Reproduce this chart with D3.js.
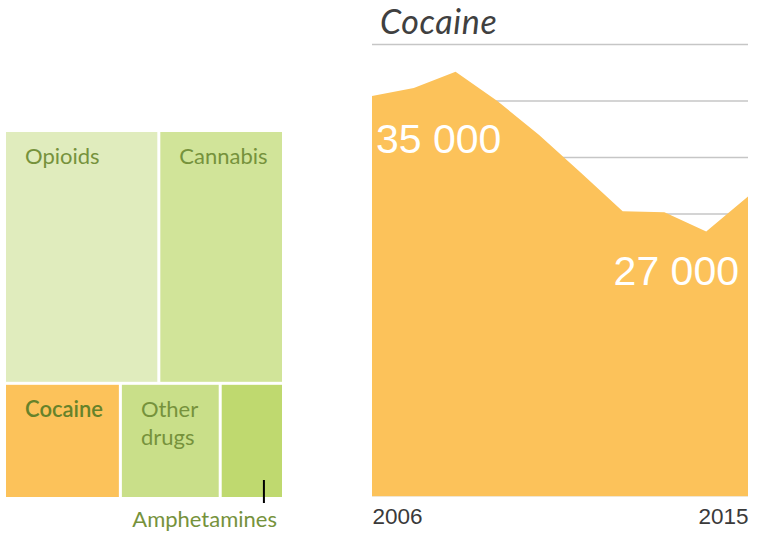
<!DOCTYPE html>
<html>
<head>
<meta charset="utf-8">
<script src="https://cdn.jsdelivr.net/npm/d3@7"></script>
<style>
  html, body { margin: 0; padding: 0; background: #ffffff; }
  svg { display: block; }
</style>
</head>
<body>
<svg id="chart" width="757" height="533"></svg>
<script>
// ---- Data ----
const treeRows = ["top", "bottom"];
const treeCategories = ["Opioids", "Cannabis", "Cocaine", "Other drugs", "Amphetamines"];
const treeRowOf = ["top", "top", "bottom", "bottom", "bottom"];
const treeValues = [38, 30.7, 13, 11.2, 7.1];
const treeColors = ["#e0ecbd", "#d1e499", "#fcc25a", "#c9df89", "#bfd96f"];

const years = [2006, 2007, 2008, 2009, 2010, 2011, 2012, 2013, 2014, 2015];
const cocaineValues = [35400, 36100, 37550, 34950, 31950, 28600, 25200, 25100, 23400, 26500];
const gridTicks = [5000, 10000, 15000, 20000, 25000, 30000, 35000, 40000];
const yearTickLabels = [2006, 2015];
const valueLabels = [{ year: 2006, text: "35 000" }, { year: 2015, text: "27 000" }];
const areaTitle = "Cocaine";

// ---- Setup ----
const svg = d3.select("#chart");
const textGreen = "#76923c";
const labelFont = "Lato, 'Open Sans', sans-serif";

// ---- Treemap ----
const tmLeft = 6, tmTop = 132, tmW = 276, tmH = 365;
const rootData = {
  name: "root",
  children: treeRows.map(r => ({
    name: r,
    children: treeCategories
      .map((c, i) => ({ name: c, value: treeValues[i], color: treeColors[i], row: treeRowOf[i] }))
      .filter(d => d.row === r)
  }))
};
const root = d3.hierarchy(rootData).sum(d => d.value || 0);
d3.treemap()
  .size([tmW, tmH])
  .paddingInner(3)
  .tile((node, x0, y0, x1, y1) => {
    if (node.depth === 0) d3.treemapSlice(node, x0, y0, x1, y1);
    else d3.treemapDice(node, x0, y0, x1, y1);
  })(root);

const tm = svg.append("g").attr("transform", `translate(${tmLeft},${tmTop})`);
const leaves = tm.selectAll("g.leaf").data(root.leaves()).join("g").attr("class", "leaf");
leaves.append("rect")
  .attr("x", d => d.x0).attr("y", d => d.y0)
  .attr("width", d => d.x1 - d.x0).attr("height", d => d.y1 - d.y0)
  .attr("fill", d => d.data.color);

leaves.filter(d => d.data.name !== "Amphetamines")
  .each(function(d) {
    const words = d.data.name === "Other drugs" ? ["Other", "drugs"] : [d.data.name];
    const isCocaine = d.data.name === "Cocaine";
    const t = d3.select(this).append("text")
      .attr("font-family", labelFont)
      .attr("font-size", 22)
      .attr("font-weight", isCocaine ? 600 : 400)
      .attr("fill", isCocaine ? "#66822a" : textGreen);
    words.forEach((w, i) => {
      t.append("tspan").attr("x", d.x0 + 19).attr("y", d.y0 + 32 + i * 28).text(w);
    });
  });

// Amphetamines callout
const amph = root.leaves().find(d => d.data.name === "Amphetamines");
const amphX = tmLeft + amph.x0 + (amph.x1 - amph.x0) * 0.7;
svg.append("line")
  .attr("x1", amphX).attr("x2", amphX)
  .attr("y1", tmTop + amph.y1 - 17).attr("y2", tmTop + amph.y1 + 6)
  .attr("stroke", "#000").attr("stroke-width", 2);
svg.append("text")
  .attr("x", tmLeft + amph.x1 - 5).attr("y", tmTop + amph.y1 + 30)
  .attr("text-anchor", "end")
  .attr("font-family", labelFont)
  .attr("font-size", 22)
  .attr("fill", textGreen)
  .text("Amphetamines");

// ---- Area chart ----
const x = d3.scaleLinear().domain([years[0], years[years.length - 1]]).range([372, 748]);
const y = d3.scaleLinear().domain([0, 40000]).range([496, 44]);

// gridlines
const grid = svg.append("g").attr("transform", `translate(372,0)`)
  .call(d3.axisRight(y).tickValues(gridTicks).tickSize(376).tickFormat(""));
grid.select(".domain").remove();
grid.selectAll(".tick line").attr("stroke", "#c6c6c6").attr("stroke-width", 1.5);

// area
const series = years.map((yr, i) => ({ year: yr, value: cocaineValues[i] }));
svg.append("path")
  .datum(series)
  .attr("fill", "#fcc25a")
  .attr("d", d3.area().x(d => x(d.year)).y0(y(0)).y1(d => y(d.value)));

// baseline
svg.append("line").attr("x1", 372).attr("x2", 748).attr("y1", y(0) + 0.5).attr("y2", y(0) + 0.5)
  .attr("stroke", "#f0e6d2").attr("stroke-width", 1);

// title
svg.append("text")
  .attr("x", 380).attr("y", 34)
  .attr("font-family", labelFont)
  .attr("font-style", "italic")
  .attr("font-weight", 400)
  .attr("font-size", 34)
  .attr("letter-spacing", 0.6)
  .attr("fill", "#404040")
  .text(areaTitle);

// value labels
svg.selectAll("text.vlabel").data(valueLabels).join("text")
  .attr("class", "vlabel")
  .attr("x", d => d.year === years[0] ? x(d.year) + 4 : x(d.year) - 9)
  .attr("y", d => d.year === years[0] ? 153 : 284.5)
  .attr("text-anchor", d => d.year === years[0] ? "start" : "end")
  .attr("font-family", "'Liberation Sans', Arial, sans-serif")
  .attr("font-size", 41)
  .attr("fill", "#ffffff")
  .text(d => d.text);

// x axis labels
const xAxis = svg.append("g").attr("transform", `translate(0,${y(0)})`)
  .call(d3.axisBottom(x).tickValues(yearTickLabels).tickSize(0).tickFormat(d3.format("d")));
xAxis.select(".domain").remove();
xAxis.selectAll("text")
  .attr("font-family", "'Liberation Sans', Arial, sans-serif")
  .attr("font-size", 22.5)
  .attr("fill", "#3a3a3a")
  .attr("dy", 0)
  .attr("y", 27.5)
  .attr("text-anchor", (d, i) => i === 0 ? "start" : "end");
</script>
</body>
</html>
